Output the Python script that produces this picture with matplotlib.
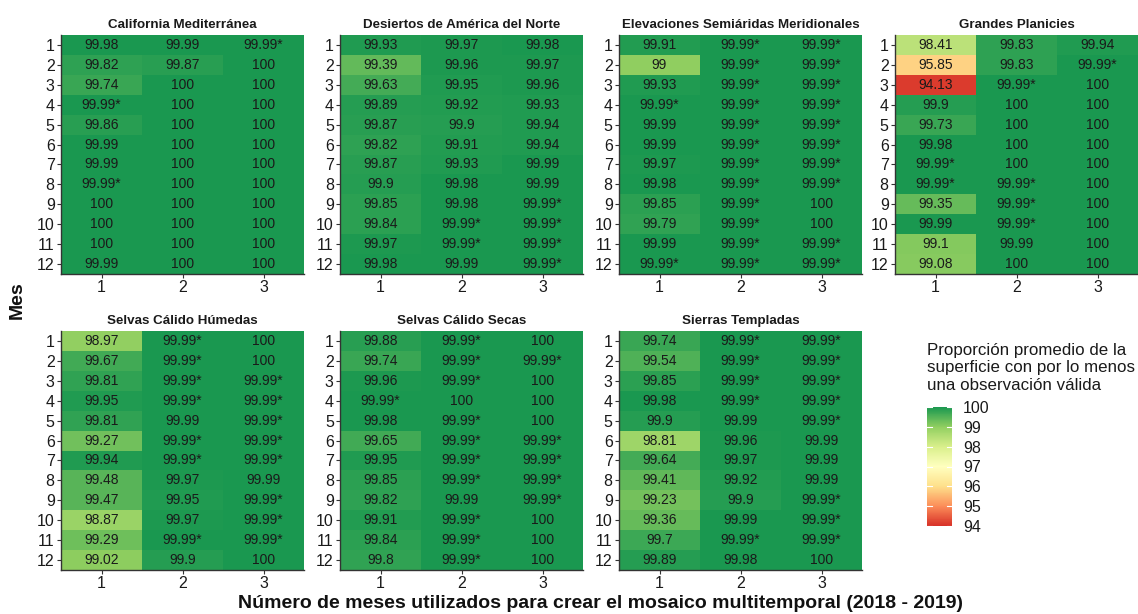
import matplotlib
matplotlib.use("Agg")
import matplotlib.pyplot as plt
import numpy as np
from matplotlib.colors import LinearSegmentedColormap, Normalize
from matplotlib.cm import ScalarMappable

plt.rcParams['font.family'] = ['Liberation Sans', 'DejaVu Sans']

# Monthly mean share of surface with at least one valid observation (%),
# rows = month 1..12, columns = number of months in the mosaic (1, 2, 3).
# A trailing "*" marks values that round to 99.99 but are not exactly 100.
months = list(range(1, 13))
n_months = [1, 2, 3]

california_mediterranea = [
    ["99.98", "99.99", "99.99*"], ["99.82", "99.87", "100"], ["99.74", "100", "100"],
    ["99.99*", "100", "100"], ["99.86", "100", "100"], ["99.99", "100", "100"],
    ["99.99", "100", "100"], ["99.99*", "100", "100"], ["100", "100", "100"],
    ["100", "100", "100"], ["100", "100", "100"], ["99.99", "100", "100"],
]
desiertos_america_norte = [
    ["99.93", "99.97", "99.98"], ["99.39", "99.96", "99.97"], ["99.63", "99.95", "99.96"],
    ["99.89", "99.92", "99.93"], ["99.87", "99.9", "99.94"], ["99.82", "99.91", "99.94"],
    ["99.87", "99.93", "99.99"], ["99.9", "99.98", "99.99"], ["99.85", "99.98", "99.99*"],
    ["99.84", "99.99*", "99.99*"], ["99.97", "99.99*", "99.99*"], ["99.98", "99.99", "99.99*"],
]
elevaciones_semiaridas = [
    ["99.91", "99.99*", "99.99*"], ["99", "99.99*", "99.99*"], ["99.93", "99.99*", "99.99*"],
    ["99.99*", "99.99*", "99.99*"], ["99.99", "99.99*", "99.99*"], ["99.99", "99.99*", "99.99*"],
    ["99.97", "99.99*", "99.99*"], ["99.98", "99.99*", "99.99*"], ["99.85", "99.99*", "100"],
    ["99.79", "99.99*", "100"], ["99.99", "99.99*", "99.99*"], ["99.99*", "99.99*", "99.99*"],
]
grandes_planicies = [
    ["98.41", "99.83", "99.94"], ["95.85", "99.83", "99.99*"], ["94.13", "99.99*", "100"],
    ["99.9", "100", "100"], ["99.73", "100", "100"], ["99.98", "100", "100"],
    ["99.99*", "100", "100"], ["99.99*", "99.99*", "100"], ["99.35", "99.99*", "100"],
    ["99.99", "99.99*", "100"], ["99.1", "99.99", "100"], ["99.08", "100", "100"],
]
selvas_calido_humedas = [
    ["98.97", "99.99*", "100"], ["99.67", "99.99*", "100"], ["99.81", "99.99*", "99.99*"],
    ["99.95", "99.99*", "99.99*"], ["99.81", "99.99", "99.99*"], ["99.27", "99.99*", "99.99*"],
    ["99.94", "99.99*", "99.99*"], ["99.48", "99.97", "99.99"], ["99.47", "99.95", "99.99*"],
    ["98.87", "99.97", "99.99*"], ["99.29", "99.99*", "99.99*"], ["99.02", "99.9", "100"],
]
selvas_calido_secas = [
    ["99.88", "99.99*", "100"], ["99.74", "99.99*", "99.99*"], ["99.96", "99.99*", "100"],
    ["99.99*", "100", "100"], ["99.98", "99.99*", "100"], ["99.65", "99.99*", "99.99*"],
    ["99.95", "99.99*", "99.99*"], ["99.85", "99.99*", "99.99*"], ["99.82", "99.99", "99.99*"],
    ["99.91", "99.99*", "100"], ["99.84", "99.99*", "100"], ["99.8", "99.99*", "100"],
]
sierras_templadas = [
    ["99.74", "99.99*", "99.99*"], ["99.54", "99.99*", "99.99*"], ["99.85", "99.99*", "99.99*"],
    ["99.98", "99.99*", "99.99*"], ["99.9", "99.99", "99.99*"], ["98.81", "99.96", "99.99"],
    ["99.64", "99.97", "99.99"], ["99.41", "99.92", "99.99"], ["99.23", "99.9", "99.99*"],
    ["99.36", "99.99", "99.99*"], ["99.7", "99.99*", "99.99*"], ["99.89", "99.98", "100"],
]

regions = [
    ("California Mediterránea", california_mediterranea),
    ("Desiertos de América del Norte", desiertos_america_norte),
    ("Elevaciones Semiáridas Meridionales", elevaciones_semiaridas),
    ("Grandes Planicies", grandes_planicies),
    ("Selvas Cálido Húmedas", selvas_calido_humedas),
    ("Selvas Cálido Secas", selvas_calido_secas),
    ("Sierras Templadas", sierras_templadas),
]

scale_limits = (94, 100)
scale_breaks = [100, 99, 98, 97, 96, 95, 94]
palette = ["#d73027", "#fc8d59", "#fee08b", "#ffffbf", "#d9ef8b", "#91cf60", "#1a9850"]
cmap = LinearSegmentedColormap.from_list("rdylgn7", palette)
norm = Normalize(vmin=scale_limits[0], vmax=scale_limits[1])

W, H = 1138, 614
fig = plt.figure(figsize=(W / 100, H / 100), dpi=100)
fig.patch.set_facecolor("white")


def px_axes(left, top, width, height):
    return fig.add_axes([left / W, 1 - (top + height) / H, width / W, height / H])


col_left = [61, 340, 619, 895]
row_top = [35, 331]
panel_w, panel_h = 243, 239
axis_col = "#333333"

for k, (name, table) in enumerate(regions):
    r, c = divmod(k, 4)
    ax = px_axes(col_left[c], row_top[r], panel_w, panel_h)
    values = np.array([[float(s.rstrip("*")) for s in row] for row in table])
    x_edges = np.arange(0.5, len(n_months) + 1, 1.0)
    y_edges = np.arange(0.5, len(months) + 1, 1.0)
    ax.pcolormesh(x_edges, y_edges, values, cmap=cmap, norm=norm,
                  shading="flat", edgecolor="none")
    for i, row in enumerate(table):
        for j, s in enumerate(row):
            star = s.endswith("*")
            label = f"{float(s.rstrip('*')):g}" + ("*" if star else "")
            ax.text(n_months[j], months[i], label, ha="center", va="center",
                    fontsize=10, color="#1a1a1a")
    ax.set_xlim(0.5, 3.5)
    ax.set_ylim(12.5, 0.5)
    ax.set_xticks(n_months)
    ax.set_yticks(months)
    ax.tick_params(length=3, width=0.8, color=axis_col, labelsize=11.5,
                   labelcolor="#1a1a1a", pad=1.5)
    for side in ("top", "right"):
        ax.spines[side].set_visible(False)
    for side in ("left", "bottom"):
        ax.spines[side].set_color(axis_col)
        ax.spines[side].set_linewidth(1.0)
    ax.set_title(name, fontsize=9.6, fontweight="bold", pad=5, color="#1a1a1a")

# Colour scale legend
fig.text(927 / W, 1 - 343 / H,
         "Proporción promedio de la\nsuperficie con por lo menos\nuna observación válida",
         ha="left", va="top", fontsize=12.2, color="#1a1a1a", linespacing=1.2)
cax = px_axes(927, 407, 25, 119)
cb = fig.colorbar(ScalarMappable(norm=norm, cmap=cmap), cax=cax)
cb.outline.set_visible(False)
cb.set_ticks(scale_breaks)
cb.ax.tick_params(length=0, labelsize=11.5, labelcolor="#1a1a1a", pad=8)
for b in scale_breaks:
    cax.plot([0, 0.2], [b, b], color="white", lw=0.8)
    cax.plot([0.8, 1.0], [b, b], color="white", lw=0.8)

fig.text(600 / W, 1 - 603 / H,
         "Número de meses utilizados para crear el mosaico multitemporal (2018 - 2019)",
         ha="center", va="center", fontsize=14, fontweight="bold", color="#111111")
fig.text(17 / W, 1 - 300 / H, "Mes", ha="center", va="center", rotation=90,
         fontsize=14, fontweight="bold", color="#111111")

fig.savefig("out.png", dpi=100, facecolor="white")
